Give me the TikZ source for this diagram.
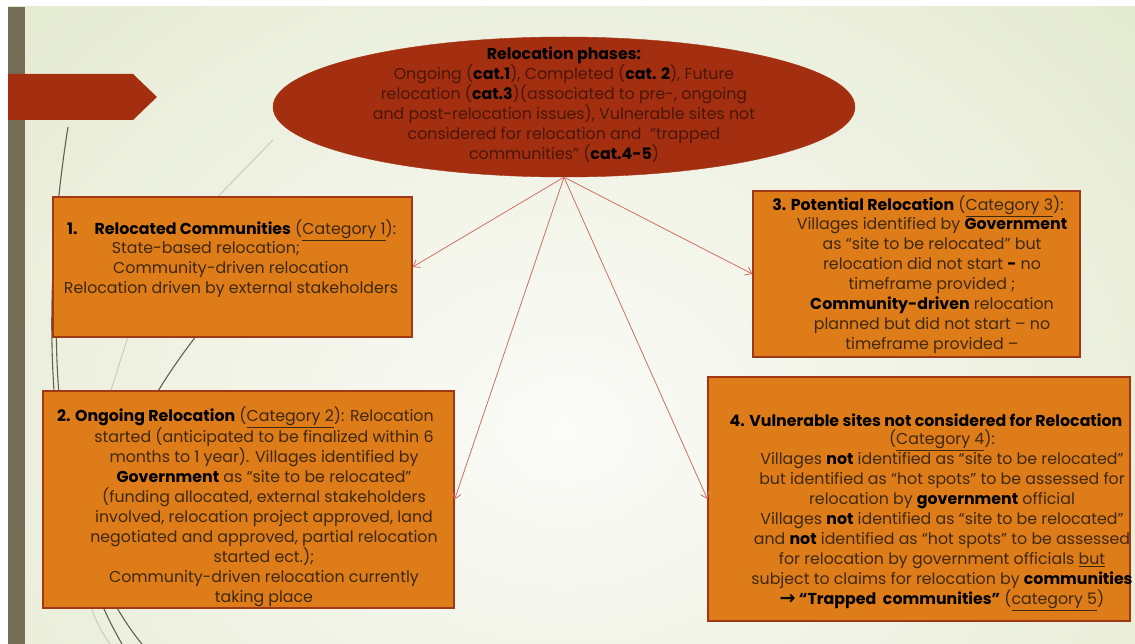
\documentclass[tikz,border=0pt]{standalone}
\usepackage{fontspec}
\setmainfont{Poppins}
\newfontfamily\symfont{DejaVu Sans}
\usetikzlibrary{arrows.meta,shapes.geometric}

\definecolor{bgEdge}{RGB}{222,229,198}
\definecolor{bgCenter}{RGB}{251,251,248}
\definecolor{barC}{RGB}{117,109,85}
\definecolor{brick}{RGB}{164,47,16}
\definecolor{boxFill}{RGB}{222,124,26}
\definecolor{boxLine}{RGB}{160,56,22}
\definecolor{bodyC}{RGB}{62,40,14}
\definecolor{ellTxt}{RGB}{72,22,10}
\definecolor{arrowC}{RGB}{205,112,98}
\definecolor{decoDark}{RGB}{100,95,80}
\definecolor{decoLight}{RGB}{196,202,180}

\begin{document}
\begin{tikzpicture}[x=1pt,y=-1pt,
  txt/.style={font=\fontsize{15.8}{20}\selectfont, text=bodyC, inner sep=0pt, align=center},
  catbox/.style={draw=boxLine, line width=1.2pt, fill=boxFill, inner sep=0pt},
  phase/.style={ellipse, fill=brick, draw=brick, inner sep=0pt,
    minimum width=582pt, minimum height=140pt},
  link/.style={draw=arrowC, line width=0.8pt, -{Straight Barb[length=6pt,width=9pt]}},
  decodark/.style={draw=decoDark, line width=1.1pt},
  decolight/.style={draw=decoLight, line width=0.9pt}]

% page and background
\useasboundingbox (0,0) rectangle (1135,644);
\fill[white] (0,0) rectangle (1135,644);
\begin{scope}
  \clip (8,7) rectangle (1135,644);
  \fill[bgEdge] (8,7) rectangle (1135,644);
  \shade[inner color=bgCenter, outer color=bgEdge] (565,430) ellipse (1000 and 820);
\end{scope}

% left bar and tab
\fill[barC] (8,7) rectangle (25,644);
\fill[brick] (8,74) -- (133,74) -- (157,97) -- (133,120) -- (8,120) -- cycle;

% sweeping background lines
\draw[decolight] (273,140) -- (200,215);
\draw[decolight] (130,330) -- (108,400);
\draw[decolight] (80,560) .. controls (86,600) and (96,625) .. (110,644);
\draw[decodark] (68,127) .. controls (36,330) and (50,520) .. (122,644);
\draw[decodark] (60,250) .. controls (46,400) and (72,560) .. (142,644);
\draw[decodark] (232,290) .. controls (205,325) and (175,360) .. (150,405);

% central ellipse
\node[phase] (phases) at (564,107) {};
\node[txt, text=ellTxt] (phasesTxt) at (564,105) {%
  \textcolor{black}{\textbf{Relocation phases:}}\\
  Ongoing (\textcolor{black}{\textbf{cat.1}}), Completed (\textcolor{black}{\textbf{cat. 2}}), Future\\
  relocation (\textcolor{black}{\textbf{cat.3}})(associated to pre-, ongoing\\
  and post-relocation issues), Vulnerable sites not\\
  considered for relocation and \ “trapped\\
  communities” (\textcolor{black}{\textbf{cat.4-5}})};

% category boxes
\node[catbox, minimum width=359pt, minimum height=140pt] (c1) at (232.5,267) {};
\node[catbox, minimum width=327pt, minimum height=166pt] (c3) at (916.5,274) {};
\node[catbox, minimum width=411pt, minimum height=217pt] (c2) at (248.5,499.5) {};
\node[catbox, minimum width=422pt, minimum height=244pt] (c4) at (919,499) {};

% box 1 text
\node[txt, anchor=west] (c1Title) at (67,230)
  {\textcolor{black}{\textbf{1.\hspace{17pt}Relocated Communities}} (\underline{Category 1}):};
\node[txt] (c1Body) at (231,270) {%
  State-based relocation;\hspace*{50pt}\\
  Community-driven relocation\\
  Relocation driven by external stakeholders};

% box 3 text
\node[txt] (c3Title) at (918,206)
  {\textcolor{black}{\textbf{3. Potential Relocation}} (\underline{Category 3}):};
\node[txt] (c3Body) at (932,286) {%
  Villages identified by \textcolor{black}{\textbf{Government}}\\
  as “site to be relocated” but\\
  relocation did not start \textcolor{black}{\textbf{-}} no\\
  timeframe provided ;\\
  \textcolor{black}{\textbf{Community-driven}} relocation\\
  planned but did not start – no\\
  timeframe provided –};

% box 2 text
\node[txt, anchor=west] (c2Title) at (57,417)
  {\textcolor{black}{\textbf{2. Ongoing Relocation}} (\underline{Category 2}): Relocation};
\node[txt] (c2Body) at (264,517) {%
  started (anticipated to be finalized within 6\\
  months to 1 year). Villages identified by\\
  \textcolor{black}{\textbf{Government}} as “site to be relocated”\\
  (funding allocated, external stakeholders\\
  involved, relocation project approved, land\\
  negotiated and approved, partial relocation\\
  started ect.);\\
  Community-driven relocation currently\\
  taking place};

% box 4 text
\node[txt] (c4Title) at (926,420)
  {\textcolor{black}{\textbf{4. Vulnerable sites not considered for Relocation}}};
\node[txt] (c4Body) at (942,520) {%
  (\underline{Category 4}):\\
  Villages \textcolor{black}{\textbf{not}} identified as “site to be relocated”\\
  but identified as “hot spots” to be assessed for\\
  relocation by \textcolor{black}{\textbf{government}} official\\
  Villages \textcolor{black}{\textbf{not}} identified as “site to be relocated”\\
  and \textcolor{black}{\textbf{not}} identified as “hot spots” to be assessed\\
  for relocation by government officials \underline{but}\\
  subject to claims for relocation by \textcolor{black}{\textbf{communities}}\\
  \textcolor{black}{\textbf{{\symfont\fontsize{19}{20}\selectfont →} “Trapped \ communities”}} (\underline{category 5})};

% connectors
\draw[link] (phases.south) -- (c1.east);
\draw[link] (phases.south) -- (c3.west);
\draw[link] (phases.south) -- (c2.east);
\draw[link] (phases.south) -- (c4.west);
\end{tikzpicture}
\end{document}
